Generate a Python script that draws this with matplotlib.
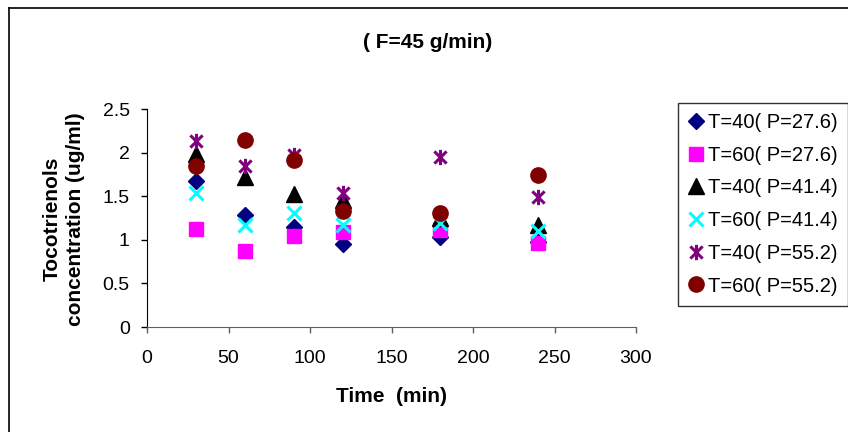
import matplotlib
matplotlib.use("Agg")
import matplotlib.pyplot as plt
from matplotlib.path import Path
from matplotlib.lines import Line2D

plt.rcParams['font.family'] = ['Liberation Sans', 'DejaVu Sans']

time = [30, 60, 90, 120, 180, 240]
labels = ["T=40( P=27.6)", "T=60( P=27.6)", "T=40( P=41.4)",
          "T=60( P=41.4)", "T=40( P=55.2)", "T=60( P=55.2)"]
t40_p276 = [1.67, 1.28, 1.15, 0.95, 1.03, 0.97]
t60_p276 = [1.12, 0.87, 1.04, 1.09, 1.11, 0.96]
t40_p414 = [1.98, 1.72, 1.52, 1.46, 1.25, 1.17]
t60_p414 = [1.54, 1.17, 1.31, 1.17, 1.19, 1.10]
t40_p552 = [2.13, 1.85, 1.97, 1.54, 1.95, 1.49]
t60_p552 = [1.85, 2.14, 1.91, 1.33, 1.31, 1.74]
series = [t40_p276, t60_p276, t40_p414, t60_p414, t40_p552, t60_p552]

star = Path([(0, -1), (0, 1), (-0.8, -0.8), (0.8, 0.8), (-0.8, 0.8), (0.8, -0.8)],
            [Path.MOVETO, Path.LINETO, Path.MOVETO, Path.LINETO, Path.MOVETO, Path.LINETO])

styles = [
    dict(marker='D', color='#000080', ms=8.5, mec='#000080'),
    dict(marker='s', color='#FF00FF', ms=10.5, mec='#FF00FF'),
    dict(marker='^', color='#000000', ms=11, mec='#000000'),
    dict(marker='x', color='#00FFFF', ms=10, mew=2.2),
    dict(marker=star, color='#800080', ms=11, mew=2.2),
    dict(marker='o', color='#800000', ms=11, mec='#800000'),
]

fig = plt.figure(figsize=(8.48, 4.32), dpi=100)
ax = fig.add_axes([147/848, 1-327/432, 489/848, 218/432])

handles = []
for vals, st, lab in zip(series, styles, labels):
    h, = ax.plot(time, vals, linestyle='none', label=lab, **st)
    handles.append(h)

ax.set_xlim(0, 300)
ax.set_ylim(0, 2.5)
ax.set_xticks(range(0, 301, 50))
ax.set_yticks([0, 0.5, 1, 1.5, 2, 2.5])
ax.set_yticklabels(['0', '0.5', '1', '1.5', '2', '2.5'])
for s in ['top', 'right']:
    ax.spines[s].set_visible(False)
ax.spines['left'].set_color('black')
ax.spines['bottom'].set_color('#606060')
ax.tick_params(axis='both', direction='out', length=4, width=1, labelsize=14)
ax.tick_params(axis='x', pad=12.5, colors='#606060', labelcolor='black')
ax.tick_params(axis='y', pad=8.5)

fig.text(428/848, 1-42/432, "( F=45 g/min)", ha='center', va='center',
         fontsize=15, fontweight='bold')
fig.text(391.5/848, 1-396/432, "Time  (min)", ha='center', va='center',
         fontsize=15, fontweight='bold')
fig.text(64/848, 1-219/432, "Tocotrienols\nconcentration (ug/ml)", ha='center',
         va='center', rotation=90, fontsize=15, fontweight='bold',
         multialignment='center', linespacing=1.25)

leg = fig.legend(handles=handles, loc='upper left',
                 bbox_to_anchor=(678/848, 1-103/432), fontsize=14.5,
                 frameon=True, fancybox=False, edgecolor='black',
                 handlelength=0.75, handletextpad=0.25, borderpad=0.5,
                 labelspacing=0.68, borderaxespad=0)
leg.get_frame().set_linewidth(1.0)

# chart area border (left and top edges)
fig.add_artist(Line2D([9/848, 9/848], [0, 1-8/432], color='black', lw=1.2,
                      transform=fig.transFigure))
fig.add_artist(Line2D([9/848, 1], [1-8/432, 1-8/432], color='black', lw=1.2,
                      transform=fig.transFigure))

fig.savefig('out.png', dpi=100)
